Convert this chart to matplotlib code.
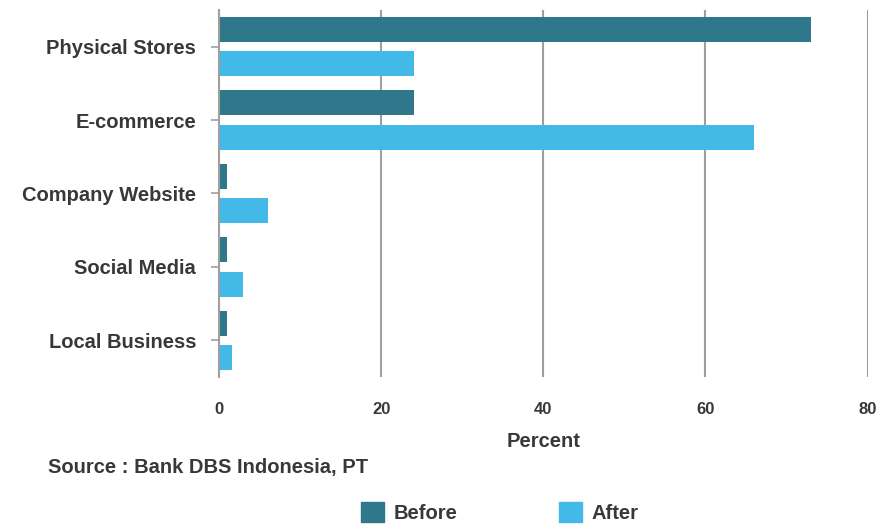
import numpy as np
import matplotlib
matplotlib.use("Agg")
import matplotlib.pyplot as plt
from matplotlib.patches import Patch

# channel usage before/after
categories = ["Physical Stores", "E-commerce", "Company Website", "Social Media", "Local Business"]
before = [73, 24, 1, 1, 1]
after = [24, 66, 6, 3, 1.6]

BEFORE_COLOR = "#2f788b"
AFTER_COLOR = "#42b9e6"
TEXT_COLOR = "#383838"
GRID_COLOR = "#a0a0a0"
FS = 14.5

plt.rcParams["font.family"] = ["Liberation Sans", "DejaVu Sans"]
plt.rcParams["font.weight"] = "bold"


def main():
    fig = plt.figure(figsize=(8.77, 5.24), dpi=100)
    ax = fig.add_axes([0.2497, 0.2805, 0.7395, 0.7005])

    y = np.arange(len(categories))
    h = 0.34
    off = 0.235
    ax.barh(y - off, before, height=h, color=BEFORE_COLOR, zorder=3)
    ax.barh(y + off, after, height=h, color=AFTER_COLOR, zorder=3)

    ax.set_xlim(0, 80)
    ax.set_ylim(4.5, -0.5)
    ax.set_xticks([0, 20, 40, 60, 80])
    ax.set_yticks(y)
    ax.set_yticklabels(categories)

    for s in ["top", "right", "bottom"]:
        ax.spines[s].set_visible(False)
    ax.spines["left"].set_color(GRID_COLOR)
    ax.spines["left"].set_linewidth(1.5)
    ax.spines["left"].set_zorder(4)

    ax.grid(axis="x", color=GRID_COLOR, linewidth=1.5, zorder=0)
    ax.tick_params(axis="x", length=0, pad=18, labelsize=12, labelcolor=TEXT_COLOR)
    ax.tick_params(axis="y", length=6, width=1.2, color=GRID_COLOR, pad=10.5,
                   labelsize=FS, labelcolor=TEXT_COLOR)
    for lbl in ax.get_xticklabels() + ax.get_yticklabels():
        lbl.set_fontweight("bold")

    ax.set_xlabel("Percent", fontsize=FS, fontweight="bold", color=TEXT_COLOR, labelpad=11)

    fig.text(0.055, 0.107, "Source : Bank DBS Indonesia, PT", fontsize=FS,
             fontweight="bold", color=TEXT_COLOR, va="center")

    handles = [Patch(color=BEFORE_COLOR, label="Before"), Patch(color=AFTER_COLOR, label="After")]
    leg = fig.legend(handles=handles, loc="center", bbox_to_anchor=(0.57, 0.022), ncol=2,
                     frameon=False, fontsize=FS, handlelength=1.15, handleheight=1.15,
                     columnspacing=5.0, handletextpad=0.5)
    for t in leg.get_texts():
        t.set_color(TEXT_COLOR)
        t.set_fontweight("bold")

    fig.savefig("out.png", dpi=100)


if __name__ == "__main__":
    main()
